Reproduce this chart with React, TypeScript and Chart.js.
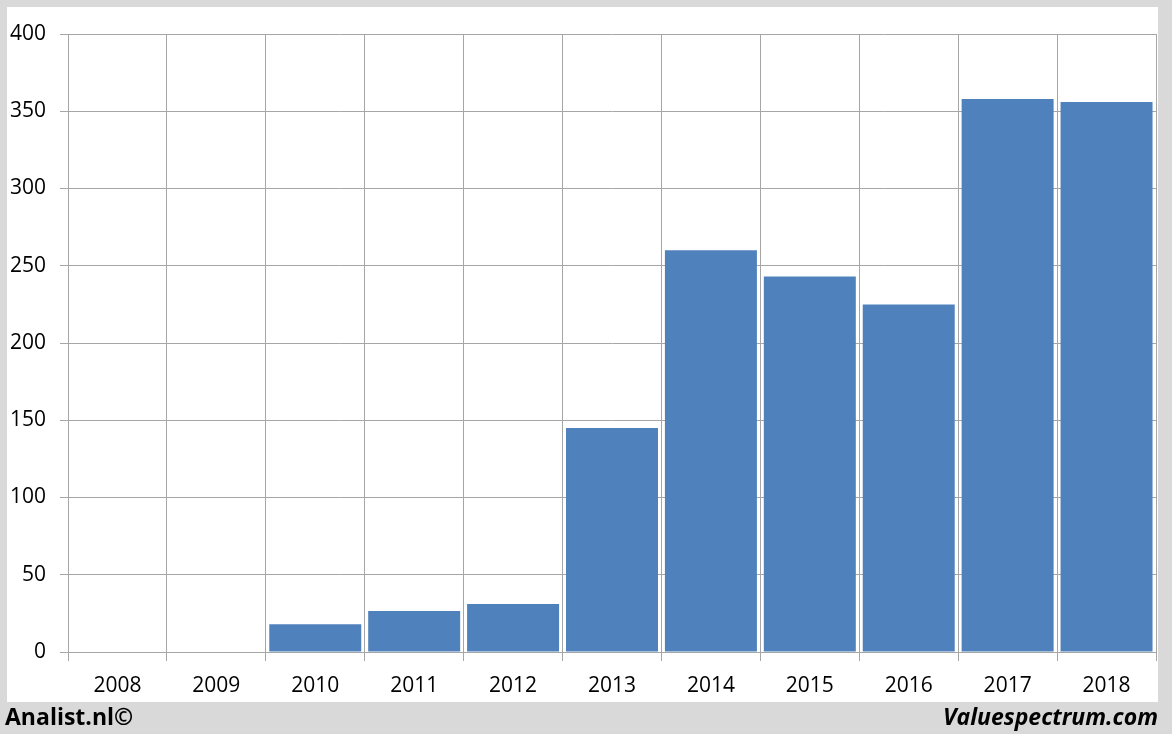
import React, { useEffect, useRef } from "react";
import { Chart, registerables } from "chart.js";

Chart.register(...registerables);

const years = ["2008", "2009", "2010", "2011", "2012", "2013", "2014", "2015", "2016", "2017", "2018"];
const values: (number | null)[] = [null, null, 18, 26.5, 31, 145, 260, 243, 225, 358, 356];
const yMin = 0;
const yMax = 400;
const yStep = 50;

const FONT = "'Open Sans', 'Liberation Sans', sans-serif";
const GRID = "#a6a6a6";

export default function App() {
  const ref = useRef<HTMLCanvasElement | null>(null);

  useEffect(() => {
    if (!ref.current) return;
    const chart = new Chart(ref.current, {
      type: "bar",
      data: {
        labels: years,
        datasets: [
          {
            data: values,
            backgroundColor: "#4f81bd",
            borderWidth: 0,
            categoryPercentage: 1,
            barPercentage: 0.93,
          },
        ],
      },
      options: {
        animation: false,
        responsive: false,
        maintainAspectRatio: false,
        layout: { padding: { left: 0, top: 27, right: 2, bottom: 0 } },
        plugins: { legend: { display: false }, tooltip: { enabled: false } },
        scales: {
          x: {
            grid: { color: GRID, lineWidth: 1, offset: true, tickLength: 9, drawTicks: true },
            border: { display: true, color: GRID },
            ticks: { color: "#000", font: { family: FONT, size: 21 }, padding: 12, maxRotation: 0 },
            afterFit: (s: any) => { s.height = 50; },
          },
          y: {
            min: yMin,
            max: yMax,
            grid: { color: GRID, lineWidth: 1, tickLength: 8 },
            border: { display: true, color: GRID },
            ticks: { stepSize: yStep, color: "#000", font: { family: FONT, size: 21 }, padding: 14 },
            afterFit: (s: any) => { s.width = 61; },
          },
        },
      },
    });
    return () => chart.destroy();
  }, []);

  return (
    <div style={{ position: "fixed", left: 0, top: 0, width: 1172, height: 734, background: "#d9d9d9" }}>
      <div style={{ position: "absolute", left: 7, top: 7, width: 1151, height: 695, background: "#fff" }}>
        <canvas ref={ref} width={1151} height={695} style={{ display: "block", width: 1151, height: 695 }} />
      </div>
      <div style={{ position: "absolute", left: 5, top: 701, height: 30, lineHeight: "30px", fontFamily: FONT, fontWeight: 700, fontSize: 23, color: "#000" }}>
        Analist.nl©
      </div>
      <div style={{ position: "absolute", right: 14, top: 701, height: 30, lineHeight: "30px", fontFamily: FONT, fontWeight: 700, fontStyle: "italic", fontSize: 23, color: "#000" }}>
        Valuespectrum.com
      </div>
    </div>
  );
}
